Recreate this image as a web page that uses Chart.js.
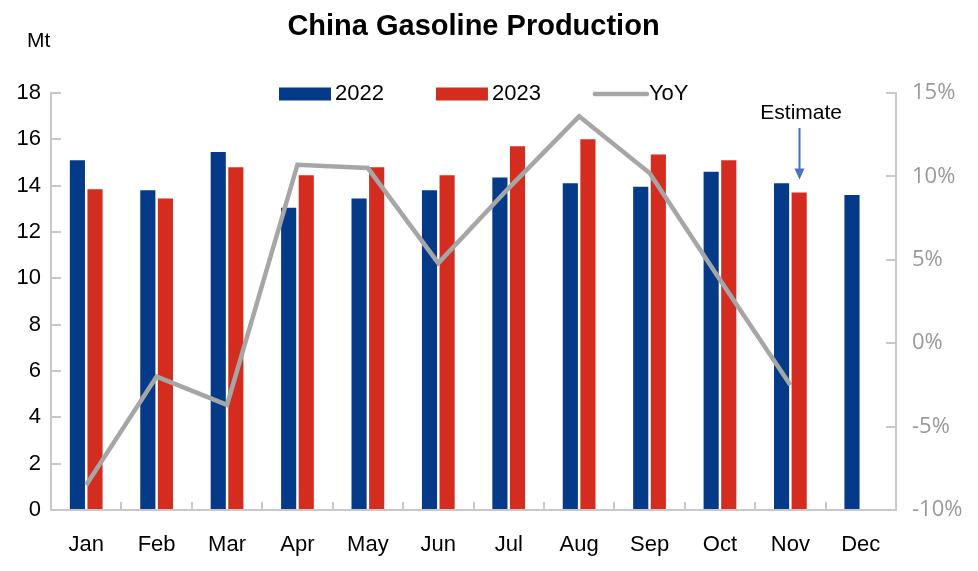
<!DOCTYPE html>
<html>
<head>
<meta charset="utf-8">
<script src="https://cdn.jsdelivr.net/npm/chart.js@4"></script>
<style>
  body { margin: 0; background: #fff; }
  #wrap { width: 978px; height: 571px; position: relative; }
</style>
</head>
<body>
<div id="wrap"><canvas id="myChart"></canvas></div>
<script>
const months = ['Jan', 'Feb', 'Mar', 'Apr', 'May', 'Jun', 'Jul', 'Aug', 'Sep', 'Oct', 'Nov', 'Dec'];
const prod2022 = [15.1, 13.8, 15.45, 13.05, 13.45, 13.8, 14.35, 14.1, 13.95, 14.6, 14.1, 13.6];
const prod2023 = [13.85, 13.45, 14.8, 14.45, 14.8, 14.45, 15.7, 16.0, 15.35, 15.1, 13.7, null];
const yoy = [-8.5, -2.0, -3.7, 10.7, 10.5, 4.8, 9.3, 13.6, 10.2, 3.8, -2.5, null];

const axisGrey = '#C8C8C8';
const font = 'Liberation Sans, Arial, sans-serif';

// legend + title extras drawn by hand so they can sit inside the plot like the original
const extrasPlugin = {
  id: 'extras',
  afterDraw(chart) {
    const ctx = chart.ctx;
    ctx.save();
    // unit label
    ctx.fillStyle = '#000';
    ctx.font = '21px ' + font;
    ctx.textAlign = 'left';
    ctx.textBaseline = 'middle';
    ctx.fillText('Mt', 27, 41);

    // legend
    let x = 279;
    const y = 94;
    chart.data.datasets.forEach(ds => {
      if (ds.type === 'line') {
        ctx.strokeStyle = ds.borderColor;
        ctx.lineWidth = 4.5;
        ctx.lineCap = 'round';
        ctx.beginPath();
        ctx.moveTo(x + 2, y);
        ctx.lineTo(x + 54, y);
        ctx.stroke();
      } else {
        ctx.fillStyle = ds.backgroundColor;
        ctx.fillRect(x, y - 6.5, 52, 13);
      }
      ctx.fillStyle = '#000';
      ctx.font = '22px ' + font;
      ctx.fillText(ds.label, x + 56, y);
      x += 56 + ctx.measureText(ds.label).width + 52;
    });

    // estimate arrow above the Nov 2023 bar
    const bar = chart.getDatasetMeta(1).data[10];
    const ax = Math.round(bar.x) + 0.5;
    const tipY = bar.y - 13;
    ctx.fillStyle = '#000';
    ctx.font = '21px ' + font;
    ctx.textAlign = 'center';
    ctx.fillText('Estimate', bar.x + 2, 113);
    ctx.strokeStyle = '#4472C4';
    ctx.fillStyle = '#4472C4';
    ctx.lineWidth = 2;
    ctx.lineCap = 'butt';
    ctx.beginPath();
    ctx.moveTo(ax, 128);
    ctx.lineTo(ax, tipY - 8);
    ctx.stroke();
    ctx.beginPath();
    ctx.moveTo(ax - 5, tipY - 11);
    ctx.lineTo(ax + 5, tipY - 11);
    ctx.lineTo(ax, tipY);
    ctx.closePath();
    ctx.fill();
    ctx.restore();
  }
};

new Chart(document.getElementById('myChart').getContext('2d'), {
  type: 'bar',
  data: {
    labels: months,
    datasets: [
      {
        label: '2022',
        data: prod2022,
        backgroundColor: '#043A87',
        yAxisID: 'y',
        order: 1,
        categoryPercentage: 0.5,
        barPercentage: 0.86
      },
      {
        label: '2023',
        data: prod2023,
        backgroundColor: '#D42D20',
        yAxisID: 'y',
        order: 1,
        categoryPercentage: 0.5,
        barPercentage: 0.86
      },
      {
        type: 'line',
        label: 'YoY',
        data: yoy,
        borderColor: '#A6A6A6',
        borderWidth: 4.5,
        pointRadius: 0,
        tension: 0,
        yAxisID: 'y1',
        order: 0
      }
    ]
  },
  options: {
    responsive: true,
    maintainAspectRatio: false,
    animation: false,
    layout: { padding: { left: 0, right: 0, top: 0, bottom: 0 } },
    plugins: {
      legend: { display: false },
      tooltip: { enabled: false },
      title: {
        display: true,
        fullSize: false,
        text: 'China Gasoline Production',
        color: '#000',
        font: { family: font, size: 29, weight: 'bold' },
        padding: { top: 10, bottom: 48.2 }
      }
    },
    scales: {
      x: {
        grid: { drawOnChartArea: false, tickLength: -8, color: axisGrey, lineWidth: 2 },
        border: { color: axisGrey, width: 2 },
        ticks: { color: '#000', font: { family: font, size: 22 }, padding: 30 },
        afterFit(scale) { scale.height = 61; }
      },
      y: {
        position: 'left',
        min: 0,
        max: 18,
        ticks: { stepSize: 2, color: '#000', font: { family: font, size: 22 }, padding: 20 },
        grid: { drawOnChartArea: false, tickLength: -10, color: axisGrey, lineWidth: 2 },
        border: { color: axisGrey, width: 2 },
        afterFit(scale) { scale.width = 51; }
      },
      y1: {
        position: 'right',
        min: -10,
        max: 15,
        ticks: {
          stepSize: 5,
          color: '#999999',
          font: { family: 'Open Sans, sans-serif', size: 22 },
          padding: 26,
          callback: v => v + '%'
        },
        grid: { drawOnChartArea: false, tickLength: -10, color: axisGrey, lineWidth: 2 },
        border: { color: axisGrey, width: 2 },
        afterFit(scale) { scale.width = 82; }
      }
    }
  },
  plugins: [extrasPlugin]
});
</script>
</body>
</html>
